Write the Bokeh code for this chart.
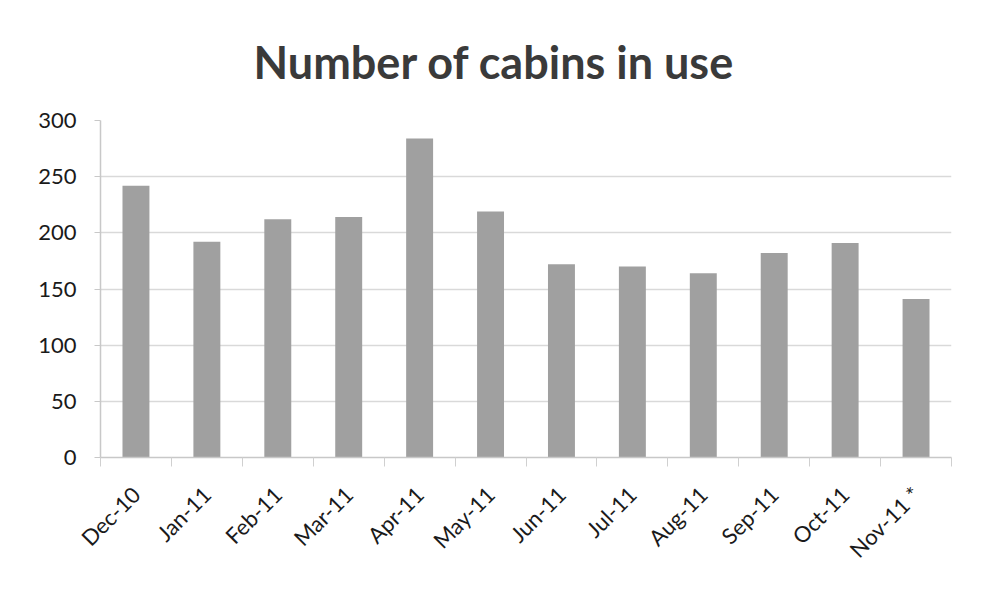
from bokeh.plotting import figure
from bokeh.models import ColumnDataSource, Range1d, LinearAxis, FixedTicker
from bokeh.embed import file_html
from bokeh.resources import INLINE
import math

months = ["Dec-10", "Jan-11", "Feb-11", "Mar-11", "Apr-11", "May-11",
          "Jun-11", "Jul-11", "Aug-11", "Sep-11", "Oct-11", "Nov-11 *"]
cabins = [242, 192, 212, 214, 284, 219, 172, 170, 164, 182, 191, 141]
y_ticks = [0, 50, 100, 150, 200, 250, 300]

n = len(months)
centers = [i + 0.5 for i in range(n)]
bounds = list(range(n + 1))
src = ColumnDataSource(data=dict(x=centers, month=months, cabins=cabins))

p = figure(x_range=Range1d(0, n), y_range=Range1d(0, 300),
           width=966, height=587, output_backend="svg", toolbar_location=None,
           x_axis_location=None,
           min_border_left=100, min_border_right=15, min_border_top=120,
           min_border_bottom=130)

p.vbar(x="x", top="cabins", width=0.38, source=src,
       fill_color="#a0a0a0", line_color=None)

p.title.text = "Number of cabins in use"
p.title.text_font = "Lato"
p.title.text_font_style = "bold"
p.title.text_font_size = "45px"
p.title.text_color = "#3a3a3a"
p.title.align = "left"
p.title.offset = 153
p.title.standoff = 63

p.outline_line_color = None
p.background_fill_color = "white"
p.border_fill_color = "white"

p.xgrid.grid_line_color = None
p.ygrid.grid_line_color = "#d9d9d9"
p.ygrid.grid_line_width = 1.5
p.yaxis.ticker = y_ticks

# month labels at bar centres, Excel-style tick marks at category boundaries
x_axis = LinearAxis(ticker=FixedTicker(ticks=centers, minor_ticks=bounds),
                    major_label_overrides={c: m for c, m in zip(centers, months)},
                    axis_line_color="#c8c8c8", axis_line_width=1.5,
                    major_tick_line_color=None,
                    major_tick_in=0, major_tick_out=9,
                    minor_tick_line_color="#d0d0d0",
                    minor_tick_in=0, minor_tick_out=9,
                    major_label_orientation=math.pi / 4,
                    major_label_text_font="Lato",
                    major_label_text_font_size="22px",
                    major_label_text_color="#1a1a1a",
                    major_label_standoff=24)
p.add_layout(x_axis, "below")

ya = p.yaxis[0]
ya.axis_line_color = "#c8c8c8"
ya.axis_line_width = 1.5
ya.major_tick_line_color = "#c8c8c8"
ya.minor_tick_line_color = None
ya.major_label_text_font = "Lato"
ya.major_label_text_color = "#1a1a1a"
ya.major_tick_in = 0
ya.major_tick_out = 6
ya.major_label_text_font_size = "22px"
ya.major_label_standoff = 18

open("out.html", "w").write(file_html(p, INLINE))
